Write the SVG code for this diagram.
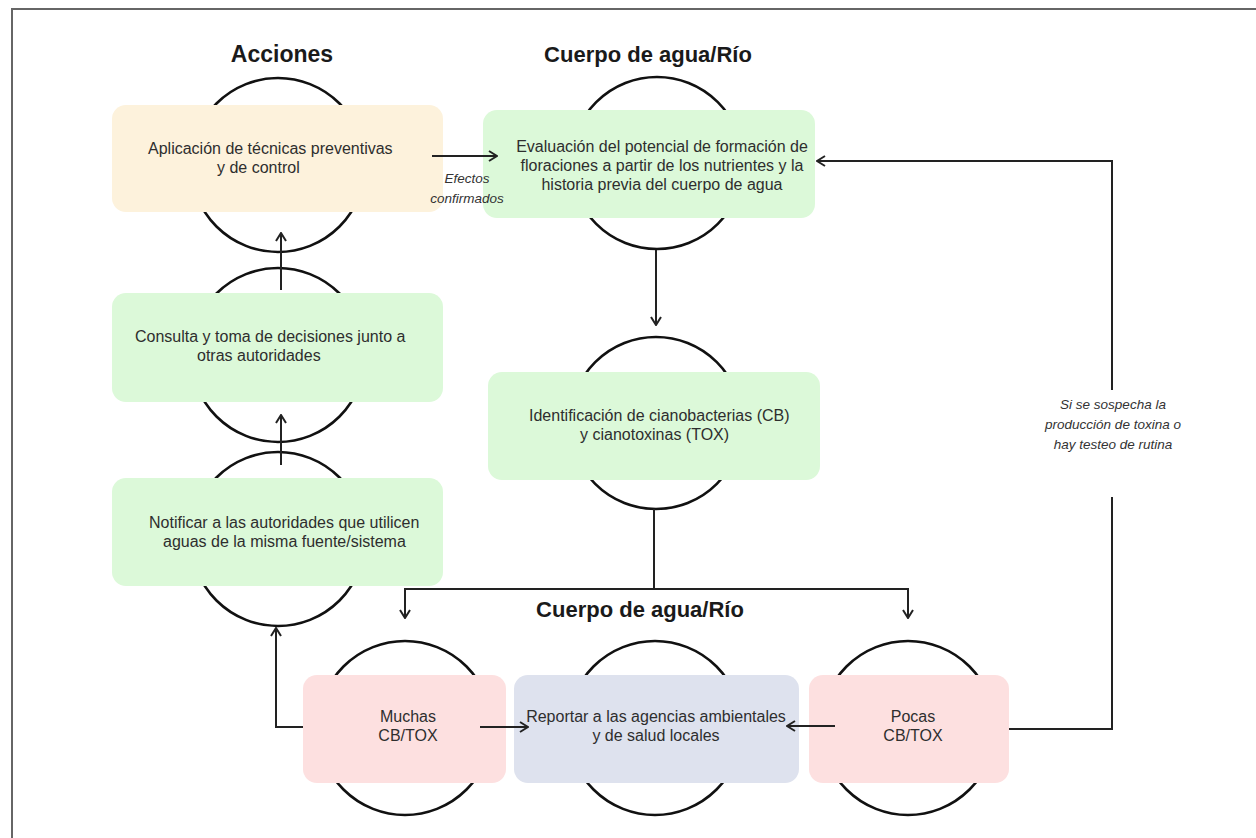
<svg xmlns="http://www.w3.org/2000/svg" width="1256" height="838" viewBox="0 0 1256 838">
  <defs>
    <marker id="arrow" viewBox="0 0 10 12" refX="9" refY="6" markerWidth="10" markerHeight="12" markerUnits="userSpaceOnUse" orient="auto">
      <path d="M1,1 L9,6 L1,11" fill="none" stroke="#222" stroke-width="2" stroke-linejoin="miter"/>
    </marker>
    <style>
      .ring { fill: none; stroke: #111; stroke-width: 2.6; }
      .box { stroke: none; }
      .cream { fill: #fdf2dc; }
      .green { fill: #dcf9d9; }
      .pink { fill: #fde0e0; }
      .lav { fill: #dee2ee; }
      .t { font-family: "Liberation Sans", Arial, sans-serif; font-size: 16px; fill: #2e2e2e; }
      .c { text-anchor: middle; }
      .title { font-family: "Liberation Sans", Arial, sans-serif; font-size: 22px; font-weight: bold; fill: #1a1a1a; text-anchor: middle; }
      .note { font-family: "Liberation Sans", Arial, sans-serif; font-size: 13.5px; font-style: italic; fill: #333; text-anchor: middle; }
      .link { fill: none; stroke: #222; stroke-width: 2; }
      .frame { fill: none; stroke: #666; stroke-width: 2; }
    </style>
  </defs>

  <rect width="1256" height="838" fill="#ffffff"/>
  <path class="frame" d="M12,838 L12,9 L1256,9"/>

  <!-- section titles -->
  <text class="title" x="282" y="62" style="font-size:23px">Acciones</text>
  <text class="title" x="648" y="62">Cuerpo de agua/Río</text>
  <text class="title" x="640" y="617">Cuerpo de agua/Río</text>

  <!-- rings behind each node -->
  <g id="rings">
    <circle class="ring" cx="278" cy="165" r="87"/>
    <circle class="ring" cx="278" cy="355" r="87"/>
    <circle class="ring" cx="278" cy="539" r="87"/>
    <circle class="ring" cx="657" cy="163" r="86"/>
    <circle class="ring" cx="656" cy="423" r="86"/>
    <circle class="ring" cx="405" cy="728" r="87"/>
    <circle class="ring" cx="655" cy="728" r="87"/>
    <circle class="ring" cx="908" cy="728" r="87"/>
  </g>

  <g id="aplicacion">
    <rect class="box cream" x="112" y="105" width="331" height="107" rx="14"/>
    <text class="t" x="148" y="154">Aplicación de técnicas preventivas</text>
    <text class="t" x="217" y="173">y de  control</text>
  </g>

  <g id="consulta">
    <rect class="box green" x="112" y="293" width="331" height="109" rx="14"/>
    <text class="t" x="135" y="342">Consulta y toma de decisiones junto a</text>
    <text class="t" x="197" y="361">otras autoridades</text>
  </g>

  <g id="notificar">
    <rect class="box green" x="112" y="478" width="331" height="108" rx="14"/>
    <text class="t" x="149" y="528">Notificar a las autoridades que utilicen</text>
    <text class="t" x="163" y="547">aguas de la misma fuente/sistema</text>
  </g>

  <g id="evaluacion">
    <rect class="box green" x="483" y="110" width="332" height="108" rx="14"/>
    <text class="t c" x="662" y="152">Evaluación del potencial de formación de</text>
    <text class="t c" x="662" y="171">floraciones a partir de los nutrientes y la</text>
    <text class="t c" x="662" y="190">historia previa del cuerpo de agua</text>
  </g>

  <g id="identificacion">
    <rect class="box green" x="488" y="372" width="332" height="108" rx="14"/>
    <text class="t" x="529" y="421">Identificación de cianobacterias (CB)</text>
    <text class="t" x="580" y="440">y cianotoxinas (TOX)</text>
  </g>

  <g id="muchas">
    <rect class="box pink" x="303" y="675" width="203" height="108" rx="14"/>
    <text class="t c" x="408" y="722">Muchas</text>
    <text class="t c" x="408" y="741">CB/TOX</text>
  </g>

  <g id="reportar">
    <rect class="box lav" x="514" y="675" width="285" height="108" rx="14"/>
    <text class="t c" x="656" y="722">Reportar a las agencias ambientales</text>
    <text class="t c" x="656" y="741">y de salud locales</text>
  </g>

  <g id="pocas">
    <rect class="box pink" x="809" y="675" width="200" height="108" rx="14"/>
    <text class="t c" x="913" y="722">Pocas</text>
    <text class="t c" x="913" y="741">CB/TOX</text>
  </g>

  <g id="connectors">
    <!-- actions chain -->
    <path class="link" d="M281,290 L281,233" marker-end="url(#arrow)"/>
    <path class="link" d="M281,465 L281,415" marker-end="url(#arrow)"/>
    <!-- confirmed effects back to evaluation -->
    <path class="link" d="M432,156 L497,156" marker-end="url(#arrow)"/>
    <text class="note" x="467" y="183">Efectos</text>
    <text class="note" x="467" y="203">confirmados</text>
    <!-- evaluation to identification -->
    <path class="link" d="M656,250 L656,325" marker-end="url(#arrow)"/>
    <!-- identification splits into two outcomes -->
    <path class="link" d="M654,509 L654,589"/>
    <path class="link" d="M654,589 L405,589 L405,618" marker-end="url(#arrow)"/>
    <path class="link" d="M654,589 L908,589 L908,618" marker-end="url(#arrow)"/>
    <!-- outcomes to reporting -->
    <path class="link" d="M480,727 L528,727" marker-end="url(#arrow)"/>
    <path class="link" d="M835,726 L787,726" marker-end="url(#arrow)"/>
    <!-- many CB/TOX escalates to notification -->
    <path class="link" d="M303,727 L276,727 L276,628" marker-end="url(#arrow)"/>
    <!-- few CB/TOX loops back to evaluation -->
    <path class="link" d="M1009,729 L1112,729 L1112,497"/>
    <path class="link" d="M1112,390 L1112,161 L817,161" marker-end="url(#arrow)"/>
    <text class="note" x="1113" y="409">Si se sospecha la</text>
    <text class="note" x="1113" y="429">producción de toxina o</text>
    <text class="note" x="1113" y="449">hay testeo de rutina</text>
  </g>
</svg>
